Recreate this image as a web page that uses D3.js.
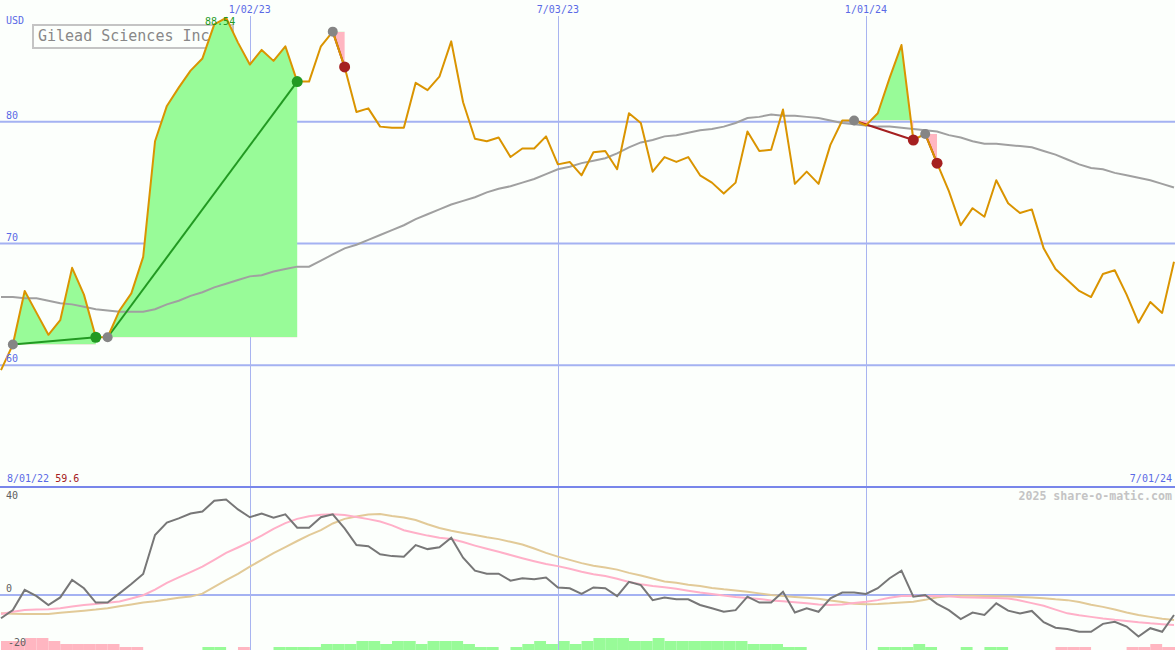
<!DOCTYPE html>
<html><head><meta charset="utf-8">
<script src="https://cdn.jsdelivr.net/npm/d3@7"></script>
<style>
html,body{margin:0;padding:0;background:#fcfffc;}
svg{display:block;}
text{font-family:"DejaVu Sans Mono",monospace;}
</style></head><body>
<svg id="c" width="1175" height="650"></svg>
<script>
const title = "Gilead Sciences Inc";
const currency = "USD";
const startDate = new Date(2022, 7, 8);
const endDate = new Date(2024, 6, 1);
const rangeLabels = ["8/01/22", "7/01/24"];
const gridDates = [new Date(2023, 0, 2), new Date(2023, 6, 3), new Date(2024, 0, 1)];
const priceTicks = [60, 70, 80];
const oscTicks = [40, 0, -20];
const watermark = "2025 share-o-matic.com";

const price = [59.6, 61.7, 66.1, 64.3, 62.5, 63.7, 68.0, 65.8, 62.3, 62.3,
  64.5, 65.9, 68.9, 78.4, 81.3, 82.8, 84.2, 85.2, 88.0, 88.54,
  86.5, 84.7, 85.9, 85.0, 86.2, 83.3, 83.3, 86.2, 87.4, 84.5,
  80.8, 81.1, 79.6, 79.5, 79.5, 83.2, 82.6, 83.7, 86.6, 81.6,
  78.6, 78.4, 78.7, 77.1, 77.8, 77.8, 78.8, 76.5, 76.7, 75.6,
  77.5, 77.6, 76.1, 80.7, 79.9, 75.9, 77.1, 76.7, 77.1, 75.6,
  75.0, 74.1, 75.0, 79.2, 77.6, 77.7, 81.0, 74.9, 75.9, 74.9,
  78.1, 80.1, 80.1, 79.7, 80.7, 83.6, 86.3, 78.5, 79.0, 76.6,
  74.3, 71.5, 72.9, 72.2, 75.2, 73.3, 72.5, 72.8, 69.6, 67.9,
  67.0, 66.1, 65.6, 67.5, 67.8, 65.8, 63.5, 65.2, 64.3, 68.5];

const ma = [65.6, 65.6, 65.5, 65.5, 65.3, 65.1, 65.0, 64.8, 64.6, 64.5,
  64.4, 64.4, 64.4, 64.6, 65.0, 65.3, 65.7, 66.0, 66.4, 66.7,
  67.0, 67.3, 67.4, 67.7, 67.9, 68.1, 68.1, 68.6, 69.1, 69.6,
  69.9, 70.3, 70.7, 71.1, 71.5, 72.0, 72.4, 72.8, 73.2, 73.5,
  73.8, 74.2, 74.5, 74.7, 75.0, 75.3, 75.7, 76.1, 76.3, 76.6,
  76.8, 77.0, 77.4, 77.9, 78.3, 78.5, 78.8, 78.9, 79.1, 79.3,
  79.4, 79.6, 79.9, 80.3, 80.4, 80.6, 80.5, 80.5, 80.4, 80.3,
  80.1, 79.9, 79.8, 79.7, 79.6, 79.6, 79.5, 79.4, 79.3, 79.2,
  78.9, 78.7, 78.4, 78.2, 78.2, 78.1, 78.0, 77.9, 77.6, 77.3,
  76.9, 76.5, 76.2, 76.1, 75.8, 75.6, 75.4, 75.2, 74.9, 74.6];

const osc = [-8.6, -5.6, 1.9, -0.4, -3.7, -0.9, 5.6, 2.5, -2.8, -2.8,
  0.6, 4.1, 7.8, 22.2, 26.8, 28.4, 30.2, 30.9, 34.9, 35.4,
  31.7, 28.8, 30.2, 28.6, 29.9, 24.9, 24.9, 28.8, 29.9, 24.7,
  18.5, 18.1, 15.1, 14.4, 14.2, 18.5, 17.0, 17.7, 21.2, 13.8,
  9.0, 7.9, 7.9, 5.3, 6.2, 5.8, 6.5, 2.8, 2.5, 0.4,
  2.8, 2.5, -0.4, 4.9, 3.7, -1.9, -0.9, -1.6, -1.6, -3.7,
  -4.9, -6.2, -5.6, -0.6, -2.8, -2.8, 1.2, -6.5, -4.9, -6.2,
  -1.2, 0.9, 0.9, 0.4, 2.5, 6.2, 9.0, -0.6, 0.0, -3.3,
  -5.6, -8.9, -6.5, -7.4, -3.1, -5.8, -6.8, -5.9, -10.1, -12.1,
  -12.6, -13.6, -13.6, -10.7, -9.9, -11.7, -15.4, -12.3, -13.6, -7.4];

const oscFast = [-7.0, -6.2, -5.6, -5.4, -5.3, -4.9, -4.3, -3.7, -3.3, -2.9,
  -2.4, -1.3, -0.1, 2.0, 4.5, 6.5, 8.5, 10.5, 13.0, 15.6,
  17.6, 19.7, 22.0, 24.5, 26.6, 28.2, 29.2, 29.7, 29.9, 29.6,
  28.9, 28.1, 27.2, 25.8, 24.0, 23.0, 22.0, 21.2, 20.7, 19.6,
  18.3, 17.1, 16.0, 14.8, 13.6, 12.5, 11.5, 10.7, 9.7, 8.6,
  7.7, 7.0, 6.0, 4.8, 4.0, 3.3, 2.9, 2.3, 1.6, 0.9,
  0.4, -0.2, -0.7, -1.1, -1.5, -2.0, -2.3, -2.7, -3.1, -3.5,
  -3.7, -3.5, -3.0, -2.5, -1.9, -1.0, -0.4, -0.3, -0.4, -0.4,
  -0.5, -0.8, -0.9, -1.0, -1.1, -1.3, -2.0, -3.0, -4.0, -5.4,
  -6.8, -7.5, -8.1, -8.7, -9.2, -9.6, -10.1, -10.5, -10.8, -11.1];

const oscSlow = [-6.8, -6.9, -7.0, -7.0, -7.0, -6.6, -6.2, -5.8, -5.4, -4.9,
  -4.2, -3.5, -2.8, -2.3, -1.7, -1.0, -0.6, 0.5, 3.0, 5.5,
  7.8, 10.5, 13.0, 15.5, 17.7, 20.0, 22.2, 24.0, 26.5, 28.2,
  29.1, 29.8, 30.0, 29.3, 28.7, 27.8, 26.2, 24.8, 23.8, 23.0,
  22.2, 21.4, 20.7, 19.7, 18.7, 17.2, 15.6, 14.2, 13.0, 11.8,
  10.8, 10.2, 9.4, 8.2, 7.2, 6.1, 5.0, 4.5, 3.8, 3.3,
  2.6, 2.1, 1.7, 1.2, 0.6, 0.0, -0.4, -0.7, -1.0, -1.4,
  -2.0, -2.6, -3.2, -3.4, -3.3, -3.1, -2.8, -2.5, -1.8, -0.8,
  -0.5, -0.3, -0.3, -0.4, -0.5, -0.6, -0.7, -0.9, -1.2, -1.6,
  -1.9, -2.6, -3.6, -4.4, -5.4, -6.5, -7.4, -8.1, -8.8, -9.3];

const bars = [-3, -3, -4, -4, -3, -2, -2, -2, -2, -2,
  -1, -1, 0, 0, 0, 0, 0, 1, 1, 0,
  -1, 0, 0, 1, 1, 1, 1, 2, 2, 2,
  3, 3, 2, 3, 3, 2, 3, 3, 3, 2,
  1, 1, 0, 1, 2, 3, 2, 3, 2, 3,
  4, 4, 4, 3, 3, 4, 3, 3, 3, 3,
  3, 3, 3, 2, 2, 2, 1, 1, 0, 0,
  0, 0, 0, 0, 1, 1, 1, 2, 1, 0,
  0, 1, 0, 1, 1, 0, 0, 0, 0, -1,
  -1, -1, 0, 0, 0, -1, -1, -2, -1, -1];

// trades: [entry week index, exit week index]
const trades = [[1, 8], [9, 25], [28, 29], [72, 77], [78, 79]];

const W = 1175, H = 650;
const svg = d3.select("#c");
const weeks = d3.timeMonday.range(startDate, d3.timeDay.offset(endDate, 1));
const x = d3.scaleTime().domain([startDate, endDate]).range([1, 1174]);
const ym = d3.scaleLinear().domain([50, 90]).range([487, 0]);
const yo = d3.scaleLinear().domain([-20, 40]).range([649, 487]);
const yb = d3.scaleLinear().domain([0, 4]).range([650, 638]);
const step = x(weeks[1]) - x(weeks[0]);
const idx = d3.range(weeks.length);

const gridCol = "#a4b2f2", labCol = "#5a6ae6";

svg.append("rect").attr("width", W).attr("height", H).attr("fill", "#fcfffc");

// histogram bars
svg.append("g").selectAll("rect").data(idx.filter(i => bars[i] !== 0)).join("rect")
  .attr("x", i => x(weeks[i])).attr("width", step)
  .attr("y", i => yb(Math.abs(bars[i]))).attr("height", i => yb(0) - yb(Math.abs(bars[i])))
  .attr("fill", i => bars[i] > 0 ? "#98fb98" : "#ffb6c1");

// horizontal grid
svg.append("g").selectAll("line").data(priceTicks).join("line")
  .attr("x1", 0).attr("x2", W).attr("y1", d => ym(d)).attr("y2", d => ym(d))
  .attr("stroke", gridCol).attr("stroke-width", 2);
svg.append("line").attr("x1", 0).attr("x2", W).attr("y1", yo(0)).attr("y2", yo(0))
  .attr("stroke", gridCol).attr("stroke-width", 2);

// vertical grid
svg.append("g").selectAll("line").data(gridDates).join("line")
  .attr("x1", d => Math.round(x(d)) + 0.5).attr("x2", d => Math.round(x(d)) + 0.5)
  .attr("y1", 16).attr("y2", H).attr("stroke", "#a8b4f0").attr("stroke-width", 1);

// separator
svg.append("line").attr("x1", 0).attr("x2", W).attr("y1", ym(50)).attr("y2", ym(50))
  .attr("stroke", "#7886ea").attr("stroke-width", 2);

// title box
svg.append("rect").attr("x", 33).attr("y", 25).attr("width", 200).attr("height", 23)
  .attr("fill", "none").attr("stroke", "#c4c4c4").attr("stroke-width", 2);
svg.append("text").attr("x", 38).attr("y", 41).attr("font-size", 15).attr("fill", "#888")
  .text(title);

// trade fills
const defs = svg.append("defs");
trades.forEach(([a, b], k) => {
  const base = ym(price[a]);
  defs.append("clipPath").attr("id", "up" + k).append("rect")
    .attr("x", 0).attr("y", 0).attr("width", W).attr("height", base);
  defs.append("clipPath").attr("id", "dn" + k).append("rect")
    .attr("x", 0).attr("y", base).attr("width", W).attr("height", 487 - base);
  const ar = d3.area().x(i => x(weeks[i])).y0(base).y1(i => ym(price[i]));
  const pts = d3.range(a, b + 1);
  svg.append("path").attr("d", ar(pts)).attr("fill", "#98fb98").attr("clip-path", `url(#up${k})`);
  svg.append("path").attr("d", ar(pts)).attr("fill", "#ffb6c1").attr("clip-path", `url(#dn${k})`);
});

// moving average
svg.append("path").attr("d", d3.line().x(i => x(weeks[i])).y(i => ym(ma[i]))(idx))
  .attr("fill", "none").attr("stroke", "#a0a0a0").attr("stroke-width", 2);

// trade lines
trades.forEach(([a, b]) => {
  const win = price[b] >= price[a];
  svg.append("line").attr("x1", x(weeks[a])).attr("y1", ym(price[a]))
    .attr("x2", x(weeks[b])).attr("y2", ym(price[b]))
    .attr("stroke", win ? "#229922" : "#a52020").attr("stroke-width", 2);
});

// price line
svg.append("path").attr("d", d3.line().x(i => x(weeks[i])).y(i => ym(price[i]))(idx))
  .attr("fill", "none").attr("stroke", "#da9400").attr("stroke-width", 2).attr("stroke-linejoin", "round");

// trade markers
trades.forEach(([a, b]) => {
  const win = price[b] >= price[a];
  svg.append("circle").attr("cx", x(weeks[a])).attr("cy", ym(price[a])).attr("r", 5).attr("fill", "#858585");
  svg.append("circle").attr("cx", x(weeks[b])).attr("cy", ym(price[b])).attr("r", 5.5)
    .attr("fill", win ? "#229922" : "#a52020");
});

// oscillator panel lines
const lo = arr => d3.line().x(i => x(weeks[i])).y(i => yo(arr[i]))(idx);
svg.append("path").attr("d", lo(oscSlow)).attr("fill", "none").attr("stroke", "#e2ca98").attr("stroke-width", 2);
svg.append("path").attr("d", lo(oscFast)).attr("fill", "none").attr("stroke", "#ffb0c8").attr("stroke-width", 2);
svg.append("path").attr("d", lo(osc)).attr("fill", "none").attr("stroke", "#777").attr("stroke-width", 2);

// labels
const fs = 10;
svg.append("text").attr("x", 6).attr("y", 24).attr("font-size", fs).attr("fill", labCol).text(currency);
svg.append("g").selectAll("text").data(priceTicks).join("text")
  .attr("x", 6).attr("y", d => ym(d) - 3).attr("font-size", fs).attr("fill", labCol).text(d => d);
svg.append("g").selectAll("text").data(gridDates).join("text")
  .attr("x", d => x(d)).attr("y", 13).attr("text-anchor", "middle").attr("font-size", fs)
  .attr("fill", labCol).text(d => d3.timeFormat("%-m/%d/%y")(d));
svg.append("g").selectAll("text").data(oscTicks).join("text")
  .attr("x", d => d < 0 ? 8 : 6).attr("y", d => Math.min(Math.max(yo(d) - 3, 499), 646))
  .attr("font-size", fs).attr("fill", "#606060").text(d => d);

const pMax = d3.max(price), iMax = price.indexOf(pMax);
svg.append("text").attr("x", x(weeks[iMax]) - 6).attr("y", ym(pMax) + 7).attr("text-anchor", "middle")
  .attr("font-size", fs).attr("fill", "#229922").text(d3.format(".2f")(pMax));

const bl = svg.append("text").attr("x", 7).attr("y", 482).attr("font-size", fs);
bl.append("tspan").attr("fill", labCol).text(rangeLabels[0] + " ");
bl.append("tspan").attr("fill", "#a52020").text(d3.format(".1f")(price[0]));
svg.append("text").attr("x", 1172).attr("y", 482).attr("text-anchor", "end").attr("font-size", fs)
  .attr("fill", labCol).text(rangeLabels[1]);
svg.append("text").attr("x", 1172).attr("y", 500).attr("text-anchor", "end").attr("font-size", 11.6)
  .attr("font-weight", "bold").attr("fill", "#c4c4c4").text(watermark);
</script>
</body></html>
